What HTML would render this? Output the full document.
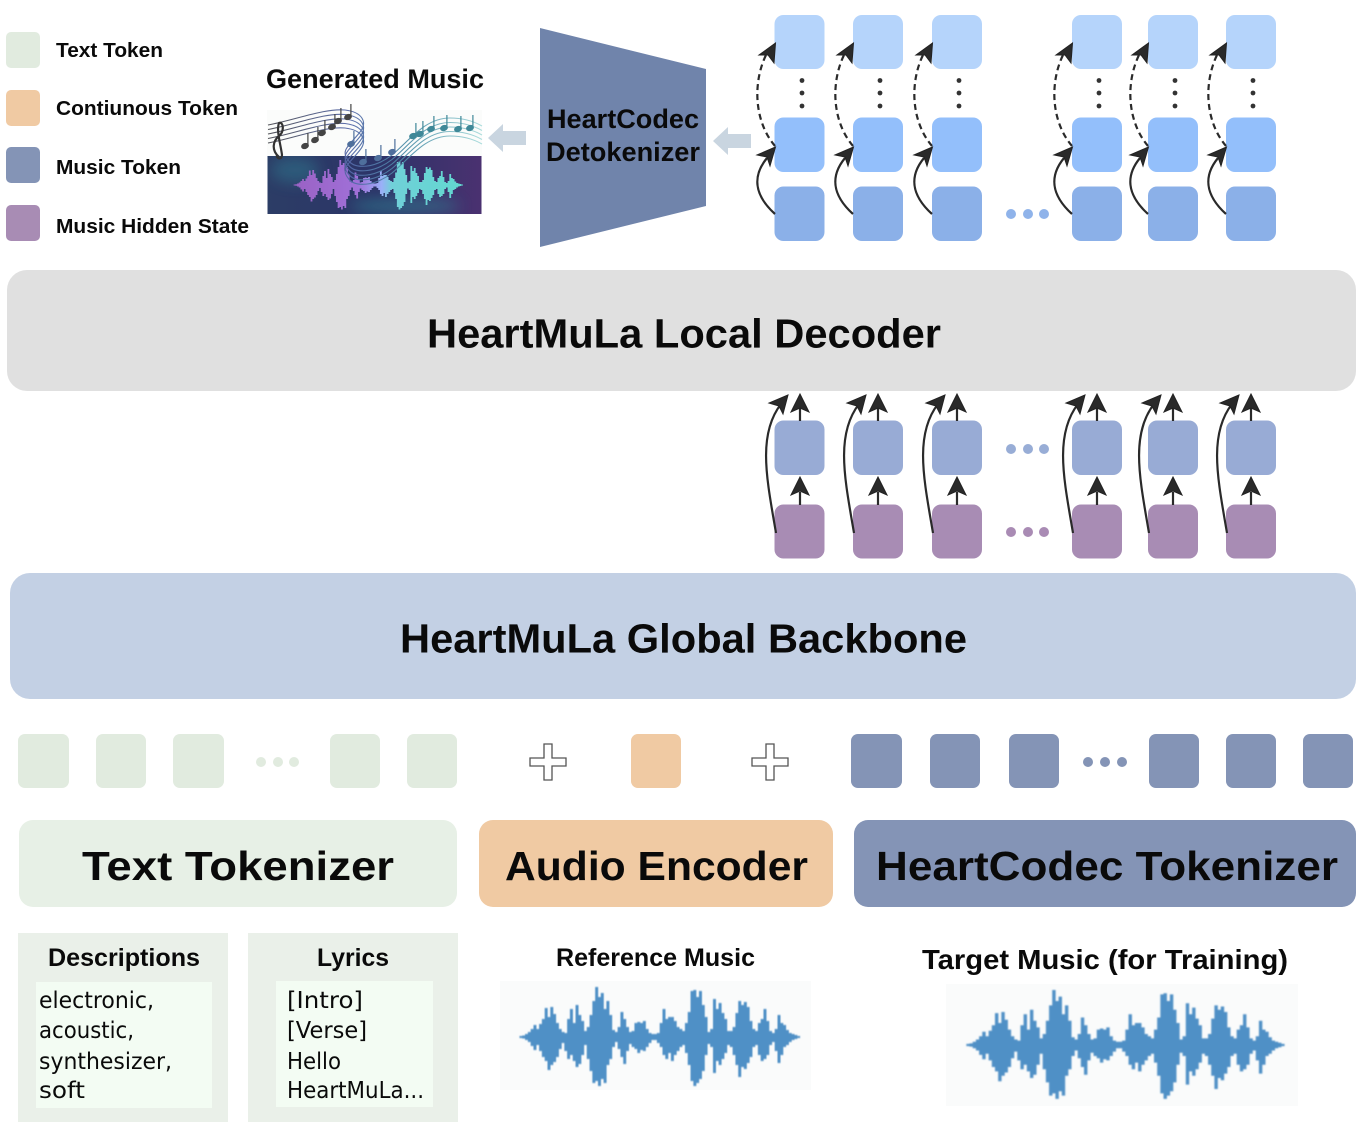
<!DOCTYPE html>
<html><head><meta charset="utf-8"><title>HeartMuLa</title>
<style>html,body{margin:0;padding:0;background:#fff}svg{display:block}
text{font-family:"Liberation Sans",sans-serif;font-weight:bold;fill:#0a0a0a}
.c{font-family:"DejaVu Sans","Liberation Sans",sans-serif;font-weight:normal;font-size:23px}
.t{font-size:41px}.l{font-size:20px}</style></head><body>
<svg width="1366" height="1136" viewBox="0 0 1366 1136" xmlns="http://www.w3.org/2000/svg">
<defs>
<clipPath id="imgclip"><rect x="267.500" y="156" width="214" height="58"/></clipPath>
<filter id="b1" x="-5%" y="-5%" width="110%" height="110%"><feGaussianBlur stdDeviation=".55"/></filter>
<filter id="b2" x="-5%" y="-5%" width="110%" height="110%"><feGaussianBlur stdDeviation=".7"/></filter>
<filter id="b3" x="-30%" y="-60%" width="160%" height="220%"><feGaussianBlur stdDeviation="7"/></filter>
<linearGradient id="sg" gradientUnits="userSpaceOnUse" x1="268" x2="482" y1="0" y2="0"><stop offset="0" stop-color="#4a4a50"/><stop offset=".38" stop-color="#5568a8"/><stop offset=".65" stop-color="#4d8fa8"/><stop offset="1" stop-color="#a8dcdc"/></linearGradient>
<linearGradient id="wg" x1="0" x2="1" y1="0" y2="0"><stop offset="0" stop-color="#9a62c4"/><stop offset=".38" stop-color="#a070d8"/><stop offset=".52" stop-color="#9ab0f8"/><stop offset=".58" stop-color="#70d0d8"/><stop offset="1" stop-color="#62d8d0"/></linearGradient>
<linearGradient id="bg" x1="0" x2="1" y1="0" y2="0"><stop offset="0" stop-color="#2c3d66"/><stop offset=".5" stop-color="#2c3468"/><stop offset="1" stop-color="#4a3170"/></linearGradient>
<path id="wave" fill="none" stroke-width="3.200" d="M1 -1V1M4 -1.500V1.500M7 -3V3M10 -5V5M13 -8V9M16 -12V13M19 -8V8M22 -13V14M25 -18V20M28 -29V24M31 -20V33M34 -30V28M37 -23V25M40 -14V20M43 -8V12M46 -5V6M49 -4V14M52 -18V22M55 -28V18M58 -14V24M61 -32V30M64 -22V27M67 -16V18M70 -6V8M73 -10V22M76 -22V34M79 -36V46M82 -50V44M85 -40V49M88 -44V42M91 -28V46M94 -36V28M97 -22V22M100 -7V10M103 -5V5M106 -10V12M109 -25V20M112 -18V27M115 -10V14M118 -5V7M121 -6V10M124 -14V12M127 -15V16M130 -14V13M133 -16V14M136 -8V10M139 -4V6M142 -3V3M145 -3V3M148 -4V6M151 -14V10M154 -28V18M157 -18V22M160 -20V16M163 -20V24M166 -16V18M169 -10V14M172 -8V10M175 -6V8M178 -14V16M181 -25V28M184 -46V44M187 -47V49M190 -40V46M193 -46V42M196 -32V34M199 -20V18M202 -5V7M205 -8V10M208 -38V36M211 -28V24M214 -34V28M217 -24V22M220 -18V16M223 -6V8M226 -6V10M229 -10V18M232 -24V28M235 -36V40M238 -32V30M241 -35V32M244 -30V26M247 -16V20M250 -8V10M253 -6V8M256 -14V18M259 -18V24M262 -28V22M265 -16V18M268 -6V8M271 -4V5M274 -8V14M277 -22V26M280 -14V18M283 -12V10M286 -7V8M289 -4V5M292 -3V3M295 -2V2M298 -1V1"/>
<g id="top">
<path d="M0 146C-22 120 -22 80 -8 53" fill="none" stroke="#2a2a2a" stroke-width="2.2" stroke-dasharray="6 4"/>
<path d="M0 214C-22 194 -22 175 -8 158" fill="none" stroke="#2a2a2a" stroke-width="2.2"/>
<path d="M0.5 43L-16 55L-7 55L-1 63Z" fill="#2a2a2a" stroke="#222" stroke-width="1"/>
<path d="M0.5 147L-18 155L-8 157L-5 166Z" fill="#2a2a2a" stroke="#222" stroke-width="1"/>
</g>
<g id="low">
<path d="M1 533C-8 480 -18 435 6 404" fill="none" stroke="#2a2a2a" stroke-width="2.2"/>
<path d="M13 395L-6 403L4 406L8 414Z" fill="#2a2a2a" stroke="#222" stroke-width="1"/>
<path d="M25 421V406M25 505V492" fill="none" stroke="#2a2a2a" stroke-width="2.2"/>
<path d="M25 394L16 412L25 408L34 412Z" fill="#2a2a2a" stroke="#222" stroke-width="1"/>
<path d="M25 477L16 495L25 491L34 495Z" fill="#2a2a2a" stroke="#222" stroke-width="1"/>
</g>
<g id="dots"><circle cx="27" cy="80.500" r="2.400" fill="#333"/><circle cx="27" cy="93" r="2.4" fill="#333"/><circle cx="27" cy="106" r="2.4" fill="#333"/></g>
<g id="tiles">
<rect y="15" width="50" height="54" rx="9" fill="#b5d4fb"/><rect y="117.500" width="50" height="54.500" rx="9" fill="#93bffb"/><rect y="186.500" width="50" height="54.500" rx="9" fill="#8bb0e8"/>
<rect y="420.500" width="50" height="54.500" rx="9" fill="#98abd5"/><rect y="504.500" width="50" height="54" rx="9" fill="#a88cb4"/>
</g>
<path id="plus" d="M-4 -18H4V-4H18V4H4V18H-4V4H-18V-4H-4Z" fill="#fff" stroke="#555" stroke-width="1.3"/>
<g id="note"><ellipse cx="0" cy="0" rx="3.500" ry="2.500" transform="rotate(-20)"/><path d="M2.900 -1V-13" stroke-width="1.200" fill="none"/></g>
<path id="ribbon" d="M268 125C295 120 325 108 345 110C362 112 368 122 360 132C350 145 340 150 348 160C355 170 375 168 392 155C410 140 425 118 450 118C465 118 475 122 482 126" fill="none"/>
</defs>
<rect width="1366" height="1136" fill="#fff"/>

<!-- legend -->
<rect x="6" y="32" width="34" height="36" rx="5" fill="#e1ebdf"/><rect x="6" y="90" width="34" height="36" rx="5" fill="#f0caa3"/><rect x="6" y="147" width="34" height="36" rx="5" fill="#8494b6"/><rect x="6" y="205" width="34" height="36" rx="5" fill="#a88cb4"/>
<text class="l" x="56" y="57" textLength="107" lengthAdjust="spacingAndGlyphs">Text Token</text>
<text class="l" x="56" y="115" textLength="182" lengthAdjust="spacingAndGlyphs">Contiunous Token</text>
<text class="l" x="56" y="174" textLength="125" lengthAdjust="spacingAndGlyphs">Music Token</text>
<text class="l" x="56" y="233" textLength="193" lengthAdjust="spacingAndGlyphs">Music Hidden State</text>

<!-- generated music -->
<text x="266" y="88" font-size="27" textLength="218" lengthAdjust="spacingAndGlyphs">Generated Music</text>
<rect x="267" y="110" width="215" height="46" fill="#fbfcfb"/>
<rect x="267.500" y="156" width="214" height="58" fill="url(#bg)"/>
<g clip-path="url(#imgclip)">
<ellipse cx="295" cy="170" rx="24" ry="13" fill="#2f6f88" opacity=".6" filter="url(#b3)"/>
<ellipse cx="405" cy="206" rx="55" ry="8" fill="#2f8090" opacity=".6" filter="url(#b3)"/>
</g>
<use href="#wave" stroke="url(#wg)" filter="url(#b1)" transform="translate(294 185) scale(.564 .5)"/>
<g stroke="url(#sg)" stroke-width="1.1" opacity=".95">
<use href="#ribbon"/><use href="#ribbon" y="4.500"/><use href="#ribbon" y="9"/><use href="#ribbon" y="13.500"/><use href="#ribbon" y="18"/>
</g>
<path d="M279 157C271 150 273 141 279 136C285 131 283 121 279 123C276 130 281 146 282 155C282 160 276 159 277 155" fill="none" stroke="#333" stroke-width="2.200"/>
<g fill="#444" stroke="#444">
<use href="#note" x="305" y="146"/><use href="#note" x="315" y="140"/><use href="#note" x="322" y="133"/><use href="#note" x="332" y="127"/><use href="#note" x="338" y="121"/><use href="#note" x="348" y="117"/>
</g>
<g fill="#4f6f9c" stroke="#4f6f9c"><use href="#note" x="351" y="144"/><use href="#note" x="363" y="162"/><use href="#note" x="378" y="158"/><use href="#note" x="392" y="152"/></g>
<g fill="#3f8898" stroke="#3f8898"><use href="#note" x="413" y="136"/><use href="#note" x="420" y="134"/><use href="#note" x="431" y="129"/><use href="#note" x="444" y="128"/><use href="#note" x="458" y="129"/><use href="#note" x="470" y="128"/></g>
<path d="M526 131V145H503V152L488 138L503 124V131Z" fill="#c9d5e0"/>
<path d="M751 134V148H728V155L713 141L728 127V134Z" fill="#c9d5e0"/>
<path d="M540 28L706 69V206L540 247Z" fill="#7084ab"/>
<text x="547" y="128" font-size="27" textLength="152" lengthAdjust="spacingAndGlyphs">HeartCodec</text>
<text x="546" y="161" font-size="27" textLength="154" lengthAdjust="spacingAndGlyphs">Detokenizer</text>

<!-- columns -->
<use href="#tiles" x="774.500"/><use href="#tiles" x="853"/><use href="#tiles" x="932"/><use href="#tiles" x="1072"/><use href="#tiles" x="1148"/><use href="#tiles" x="1226"/>
<use href="#top" x="775"/><use href="#top" x="853"/><use href="#top" x="932"/><use href="#top" x="1072"/><use href="#top" x="1148"/><use href="#top" x="1226"/>
<use href="#dots" x="775"/><use href="#dots" x="853"/><use href="#dots" x="932"/><use href="#dots" x="1072"/><use href="#dots" x="1148"/><use href="#dots" x="1226"/>
<use href="#low" x="775"/><use href="#low" x="853"/><use href="#low" x="932"/><use href="#low" x="1072"/><use href="#low" x="1148"/><use href="#low" x="1226"/>
<g fill="#8fb3ea"><circle cx="1011" cy="214" r="5"/><circle cx="1028" cy="214" r="5"/><circle cx="1044" cy="214" r="5"/></g>
<g fill="#98add6"><circle cx="1011" cy="449" r="5"/><circle cx="1028" cy="449" r="5"/><circle cx="1044" cy="449" r="5"/></g>
<g fill="#a98bb4"><circle cx="1011" cy="532" r="5"/><circle cx="1028" cy="532" r="5"/><circle cx="1044" cy="532" r="5"/></g>

<!-- bars -->
<rect x="7" y="270" width="1349" height="121" rx="20" fill="#e0e0e0"/>
<text class="t" x="427" y="347.500" textLength="514" lengthAdjust="spacingAndGlyphs">HeartMuLa Local Decoder</text>
<rect x="10" y="573" width="1346" height="126" rx="20" fill="#c3d0e4"/>
<text class="t" x="400" y="652.500" textLength="567" lengthAdjust="spacingAndGlyphs">HeartMuLa Global Backbone</text>

<!-- tokens -->
<g fill="#e1ebdf"><rect x="18" y="734" width="51" height="54" rx="7"/><rect x="96" y="734" width="50" height="54" rx="7"/><rect x="173" y="734" width="51" height="54" rx="7"/><rect x="330" y="734" width="50" height="54" rx="7"/><rect x="407" y="734" width="50" height="54" rx="7"/>
<circle cx="261" cy="762" r="5"/><circle cx="278" cy="762" r="5"/><circle cx="294" cy="762" r="5"/></g>
<use href="#plus" x="548" y="762"/><use href="#plus" x="770" y="762"/>
<rect x="631" y="734" width="50" height="54" rx="7" fill="#f0caa3"/>
<g fill="#8494b6"><rect x="851" y="734" width="51" height="54" rx="7"/><rect x="930" y="734" width="50" height="54" rx="7"/><rect x="1009" y="734" width="50" height="54" rx="7"/><rect x="1149" y="734" width="50" height="54" rx="7"/><rect x="1226" y="734" width="50" height="54" rx="7"/><rect x="1303" y="734" width="50" height="54" rx="7"/>
<circle cx="1088" cy="762" r="5"/><circle cx="1105" cy="762" r="5"/><circle cx="1122" cy="762" r="5"/></g>

<!-- tokenizers -->
<rect x="19" y="820" width="438" height="87" rx="14" fill="#e7f0e6"/>
<rect x="479" y="820" width="354" height="87" rx="14" fill="#f0caa3"/>
<rect x="854" y="820" width="502" height="87" rx="14" fill="#8494b6"/>
<text class="t" x="82" y="880" textLength="312" lengthAdjust="spacingAndGlyphs">Text Tokenizer</text>
<text class="t" x="505" y="880" textLength="303" lengthAdjust="spacingAndGlyphs">Audio Encoder</text>
<text class="t" x="876" y="880" textLength="462" lengthAdjust="spacingAndGlyphs">HeartCodec Tokenizer</text>

<!-- inputs -->
<rect x="18" y="933" width="210" height="189" fill="#eaf0e9"/><rect x="36" y="982" width="176" height="126" fill="#f3fcf3"/>
<rect x="248" y="933" width="210" height="189" fill="#eaf0e9"/><rect x="276" y="981" width="157" height="126" fill="#f3fcf3"/>
<text x="48" y="966" font-size="25" textLength="152" lengthAdjust="spacingAndGlyphs">Descriptions</text>
<text x="317" y="966" font-size="25" textLength="72" lengthAdjust="spacingAndGlyphs">Lyrics</text>
<text class="c" x="39" y="1008" textLength="115" lengthAdjust="spacingAndGlyphs">electronic,</text>
<text class="c" x="39" y="1038" textLength="95" lengthAdjust="spacingAndGlyphs">acoustic,</text>
<text class="c" x="39" y="1069" textLength="133" lengthAdjust="spacingAndGlyphs">synthesizer,</text>
<text class="c" x="39" y="1098" textLength="46" lengthAdjust="spacingAndGlyphs">soft</text>
<text class="c" x="287" y="1008" textLength="76" lengthAdjust="spacingAndGlyphs">[Intro]</text>
<text class="c" x="287" y="1038" textLength="80" lengthAdjust="spacingAndGlyphs">[Verse]</text>
<text class="c" x="287" y="1069" textLength="54" lengthAdjust="spacingAndGlyphs">Hello</text>
<text class="c" x="287" y="1098" textLength="137" lengthAdjust="spacingAndGlyphs">HeartMuLa...</text>

<text x="556" y="966" font-size="25" textLength="199" lengthAdjust="spacingAndGlyphs">Reference Music</text>
<rect x="500" y="981" width="311" height="109" fill="#fafbfb"/>
<use href="#wave" stroke="#4f90c6" filter="url(#b2)" transform="translate(520 1037) scale(.935 1)"/>
<text x="922" y="969" font-size="28" textLength="366" lengthAdjust="spacingAndGlyphs">Target Music (for Training)</text>
<rect x="946" y="984" width="352" height="122" fill="#fafbfb"/>
<use href="#wave" stroke="#4f90c6" filter="url(#b2)" transform="translate(967 1045) scale(1.06 1.1)"/>
</svg>
</body></html>
